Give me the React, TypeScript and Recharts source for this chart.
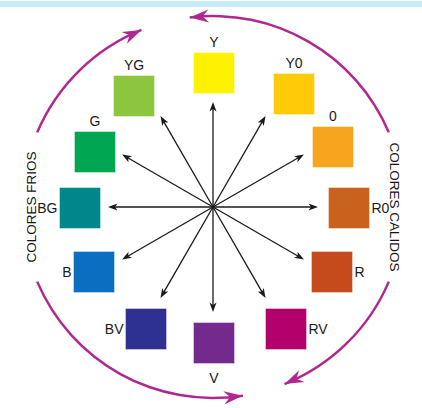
import { PieChart, Pie, Cell, ScatterChart, Scatter, XAxis, YAxis, ReferenceLine } from 'recharts'

// color swatches on the wheel (position relative to wheel centre, y up)
const colorNames = ['Y', 'Y0', '0', 'R0', 'R', 'RV', 'V', 'BV', 'B', 'BG', 'G', 'YG']
const colorFills = ['#fff200', '#ffcb08', '#f7a51e', '#c9621c', '#c54a1c', '#b3006a', '#732a8c', '#2e3192', '#0b6ec0', '#00878c', '#00a651', '#8cc63f']
const squareX = [1, 81, 120, 136, 119, 73, 1, -67, -119, -133, -118, -79]
const squareY = [134, 113, 60, -1, -65, -122, -136, -122, -65, -1, 55, 111]

// twelve arrows out of the centre
const arrowAngles = [90, 60, 30, 0, -30, -60, -90, -120, -150, 180, 150, 120]
const arrowLength = 105

// outer ring, counter-clockwise from 23 degrees
const ringNames = ['calidos-top', 'gap', 'frios-top', 'COLORES FRIOS', 'frios-bottom', 'gap', 'calidos-bottom', 'COLORES CALIDOS']
const ringSpans = [74, 15, 45, 46, 76, 13, 45, 46]
const ringArrow = ['end', '', 'start', '', 'end', '', 'start', '']

const PINK = '#b0288f'
const FONT = "'Liberation Sans', Arial, sans-serif"
const CX = 213
const CY = 207
const RING_R = 191

const swatches = colorNames.map((name, i) => ({ name, fill: colorFills[i], x: squareX[i], y: squareY[i] }))
const ring = ringNames.map((name, i) => ({ name, value: ringSpans[i], arrow: ringArrow[i] }))
const arrows = arrowAngles.map((a) => ({
  x: arrowLength * Math.cos((a * Math.PI) / 180),
  y: arrowLength * Math.sin((a * Math.PI) / 180),
}))

const polar = (r: number, deg: number) => {
  const t = (deg * Math.PI) / 180
  return [CX + r * Math.cos(t), CY - r * Math.sin(t)]
}

const headPoints = (tx: number, ty: number, ux: number, uy: number, len: number, wid: number, notch: number) => {
  const nx = -uy
  const ny = ux
  const pts = [
    [tx, ty],
    [tx - len * ux + (wid / 2) * nx, ty - len * uy + (wid / 2) * ny],
    [tx - (len - notch) * ux, ty - (len - notch) * uy],
    [tx - len * ux - (wid / 2) * nx, ty - len * uy - (wid / 2) * ny],
  ]
  return pts.map((p) => p.join(',')).join(' ')
}

// eslint-disable-next-line @typescript-eslint/no-explicit-any
function RingLabel(props: any) {
  const { startAngle, endAngle, midAngle, index, payload } = props
  const name = payload?.name ?? ringNames[index]
  const arrow = payload?.arrow ?? ringArrow[index]
  if (name.startsWith('COLORES')) {
    // baseline on the inner side, letters pointing outwards
    const [x, y] = polar(177, midAngle)
    const rot = x < CX ? -90 : 90
    return (
      <text transform={`translate(${x},${y}) rotate(${rot})`} textAnchor="middle" fontSize={13.5} fill="#111" fontFamily={FONT}>
        {name}
      </text>
    )
  }
  if (!arrow) return null
  const len = 19
  const tipAngle = arrow === 'end' ? endAngle : startAngle
  const dir = arrow === 'end' ? 1 : -1
  const backAngle = tipAngle - dir * ((len / RING_R) * 180) / Math.PI
  const [tx, ty] = polar(RING_R, tipAngle)
  const [bx, by] = polar(RING_R, backAngle)
  const d = Math.hypot(tx - bx, ty - by)
  return <polygon points={headPoints(tx, ty, (tx - bx) / d, (ty - by) / d, len, 13, 6)} fill={PINK} />
}

// eslint-disable-next-line @typescript-eslint/no-explicit-any
function Swatch(props: any) {
  const { cx, cy, payload } = props
  const size = 41
  const ang = (Math.atan2(payload.y, payload.x) * 180) / Math.PI
  let lx = cx
  let ly = cy
  let anchor: 'middle' | 'end' | 'start' = 'middle'
  if (ang > 20 && ang < 160) ly = cy - 31
  else if (ang < -80 && ang > -100) ly = cy + 35
  else if (payload.x < 0) {
    lx = cx - size / 2 - 2
    anchor = 'end'
  } else {
    lx = cx + size / 2 + 2
    anchor = 'start'
  }
  return (
    <g>
      <rect x={cx - size / 2} y={cy - size / 2} width={size} height={size} fill={payload.fill} stroke="#ffffff" strokeOpacity={0.4} />
      <text x={lx} y={ly} textAnchor={anchor} dominantBaseline="central" fontSize={14} fill="#1a1a1a" fontFamily={FONT}>
        {payload.name}
      </text>
    </g>
  )
}

// eslint-disable-next-line @typescript-eslint/no-explicit-any
function ArrowShape(props: any) {
  const { x1, y1, x2, y2 } = props
  const d = Math.hypot(x2 - x1, y2 - y1)
  const ux = (x2 - x1) / d
  const uy = (y2 - y1) / d
  return (
    <g>
      <line x1={x1} y1={y1} x2={x2 - ux * 5} y2={y2 - uy * 5} stroke="#1a1a1a" strokeWidth={1.3} />
      <polygon points={headPoints(x2, y2, ux, uy, 9.5, 7, 2.5)} fill="#1a1a1a" />
    </g>
  )
}

export default function App() {
  return (
    <div style={{ position: 'absolute', left: 0, top: 0, width: 422, height: 408, background: '#fff', overflow: 'hidden' }}>
      <div style={{ position: 'absolute', left: 0, top: 1, width: 422, height: 6, background: '#c6ecf8' }} />
      <div style={{ position: 'absolute', left: 0, top: 0 }}>
        <PieChart width={422} height={408} margin={{ top: 0, right: 0, bottom: 0, left: 0 }}>
          <Pie
            data={ring}
            dataKey="value"
            cx={CX}
            cy={CY}
            innerRadius={RING_R - 1.25}
            outerRadius={RING_R + 1.25}
            startAngle={23}
            endAngle={383}
            stroke="none"
            label={RingLabel}
            labelLine={false}
            isAnimationActive={false}
          >
            {ring.map((r, i) => (
              <Cell key={i} fill={r.name.startsWith('COLORES') || r.name === 'gap' ? 'none' : PINK} />
            ))}
          </Pie>
        </PieChart>
      </div>
      <div style={{ position: 'absolute', left: 0, top: 0 }}>
        <ScatterChart width={422} height={408} margin={{ top: 0, right: 0, bottom: 0, left: 0 }}>
          <XAxis type="number" dataKey="x" domain={[-213, 209]} hide />
          <YAxis type="number" dataKey="y" domain={[-201, 207]} hide />
          {arrows.map((a, i) => (
            <ReferenceLine key={i} segment={[{ x: 0, y: 0 }, { x: a.x, y: a.y }]} shape={ArrowShape} ifOverflow="visible" />
          ))}
          <Scatter data={swatches} shape={Swatch} isAnimationActive={false} />
        </ScatterChart>
      </div>
    </div>
  )
}
